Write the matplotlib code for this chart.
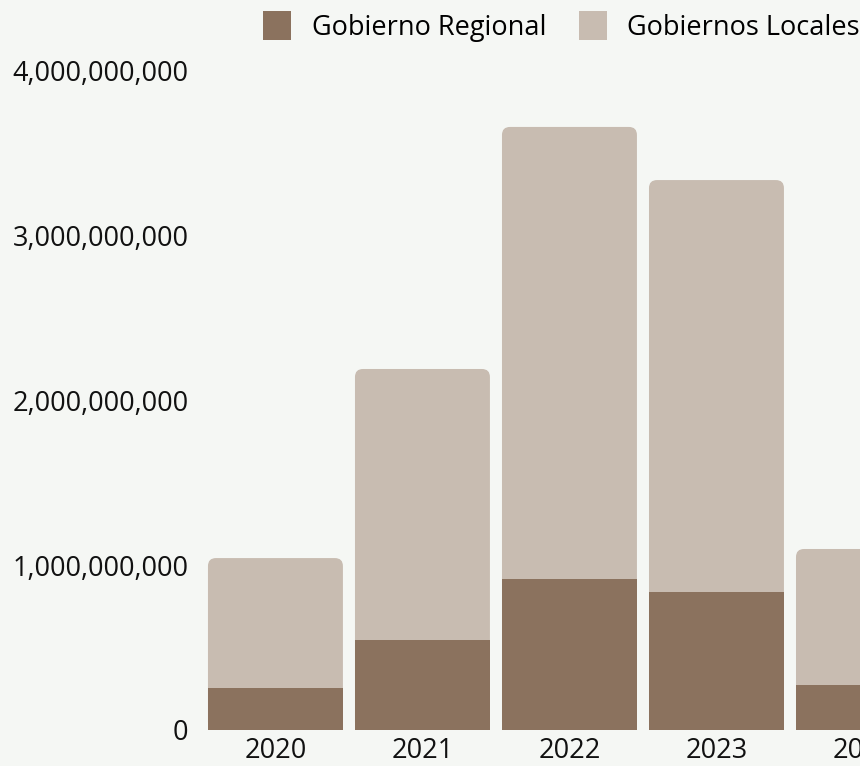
import matplotlib
matplotlib.use("Agg")
import matplotlib.pyplot as plt
from matplotlib.patches import FancyBboxPatch, Patch
from matplotlib.ticker import FuncFormatter
import numpy as np

# ── data ──────────────────────────────────────────────────────────────────────

YEARS    = ["2020", "2021", "2022", "2023", "2024"]
REGIONAL = [0.255e9, 0.545e9, 0.915e9, 0.836e9, 0.273e9]
LOCALES  = [0.787e9, 1.643e9, 2.740e9, 2.497e9, 0.824e9]

# ── style ─────────────────────────────────────────────────────────────────────

BG       = "#f5f7f4"
C_REG    = "#8b725e"
C_LOC    = "#c8bcb1"
FS       = 19.5
BAR_W    = 0.918

plt.rcParams["font.family"] = ["Open Sans", "DejaVu Sans"]

fig = plt.figure(figsize=(8.6, 7.66), dpi=100, facecolor=BG)
# axes deliberately runs past the right edge (the reference is cropped there)
ax = fig.add_axes([0.229, 0.047, 0.8776, 0.8616])
ax.set_facecolor(BG)

x = np.arange(len(YEARS))
totals = [r + l for r, l in zip(REGIONAL, LOCALES)]

# pixel -> data conversions for the corner radius
px_x = 1 / 147.0
px_y = 1e9 / 165.0
radius = 8 * px_x

for xi, tot in zip(x, totals):
    box = FancyBboxPatch((xi - BAR_W / 2, 0), BAR_W, tot,
                         boxstyle=f"round,pad=0,rounding_size={radius}",
                         mutation_aspect=px_y / px_x,
                         facecolor=C_LOC, edgecolor="none", zorder=2)
    ax.add_patch(box)

ax.bar(x, REGIONAL, width=BAR_W, color=C_REG, zorder=3, linewidth=0)

ax.set_xlim(-0.534, 4.6)
ax.set_ylim(0, 4e9)
ax.set_yticks([0, 1e9, 2e9, 3e9, 4e9])
ax.yaxis.set_major_formatter(FuncFormatter(lambda v, p: f"{v:,.0f}"))
ax.set_xticks(x)
ax.set_xticklabels(YEARS)
ax.tick_params(axis="both", length=0, labelsize=FS, colors="#111111")
ax.tick_params(axis="x", pad=5)
ax.tick_params(axis="y", pad=6)
for s in ax.spines.values():
    s.set_visible(False)

handles = [Patch(facecolor=C_REG, edgecolor="none"),
           Patch(facecolor=C_LOC, edgecolor="none")]
fig.legend(handles, ["Gobierno Regional", "Gobiernos Locales"],
           loc="upper right", bbox_to_anchor=(1.0, 0.986), ncol=2,
           frameon=False, fontsize=FS, borderpad=0, borderaxespad=0,
           handlelength=1.05, handleheight=1.3, handletextpad=0.75,
           columnspacing=1.2)

fig.savefig("out.png", dpi=100, facecolor=BG)
